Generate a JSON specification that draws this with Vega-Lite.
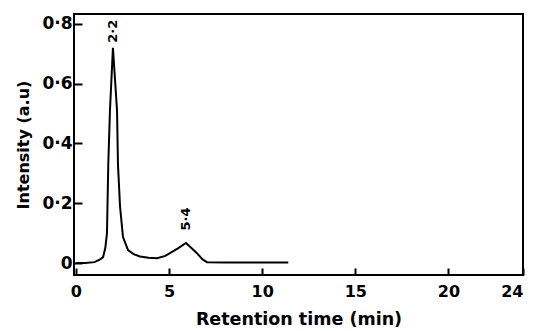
{
  "$schema": "https://vega.github.io/schema/vega-lite/v6.json",
  "width": 449,
  "height": 261,
  "autosize": {"type": "none"},
  "padding": {"left": 74, "top": 14, "right": 10, "bottom": 56},
  "background": "white",
  "config": {
    "view": {"stroke": "black", "strokeWidth": 2},
    "font": "DejaVu Sans",
    "axis": {
      "labelFont": "DejaVu Sans",
      "labelFontWeight": "bold",
      "labelColor": "black",
      "titleFont": "DejaVu Sans",
      "titleColor": "black",
      "titleFontWeight": "bold",
      "domain": false,
      "grid": false,
      "tickColor": "black",
      "tickWidth": 2,
      "zindex": 1
    }
  },
  "layer": [
    {
      "data": {
        "values": [
          {"t": 0, "v": 0.0},
          {"t": 0.5, "v": 0.0},
          {"t": 1.0, "v": 0.003},
          {"t": 1.3, "v": 0.012},
          {"t": 1.46, "v": 0.02},
          {"t": 1.58, "v": 0.05},
          {"t": 1.67, "v": 0.1},
          {"t": 1.74, "v": 0.33},
          {"t": 1.83, "v": 0.51},
          {"t": 1.99, "v": 0.72},
          {"t": 2.21, "v": 0.51},
          {"t": 2.26, "v": 0.33},
          {"t": 2.37, "v": 0.19},
          {"t": 2.53, "v": 0.087},
          {"t": 2.8, "v": 0.043},
          {"t": 3.1, "v": 0.03},
          {"t": 3.44, "v": 0.022},
          {"t": 3.9, "v": 0.018},
          {"t": 4.36, "v": 0.016},
          {"t": 4.8, "v": 0.024},
          {"t": 5.05, "v": 0.033},
          {"t": 5.5, "v": 0.05},
          {"t": 5.91, "v": 0.067},
          {"t": 6.2, "v": 0.05},
          {"t": 6.5, "v": 0.033},
          {"t": 6.8, "v": 0.012},
          {"t": 7.04, "v": 0.003},
          {"t": 8, "v": 0.002},
          {"t": 9, "v": 0.002},
          {"t": 10, "v": 0.002},
          {"t": 11.4, "v": 0.002}
        ]
      },
      "mark": {"type": "line", "color": "black", "strokeWidth": 2},
      "encoding": {
        "x": {
          "field": "t",
          "type": "quantitative",
          "scale": {"domain": [-0.1, 24], "nice": false, "zero": false},
          "axis": {
            "values": [0, 5, 10, 15, 20, 24],
            "tickSize": -7,
            "labelPadding": 15,
            "labelFontSize": 16,
            "title": "Retention time (min)",
            "titleFontSize": 17.5,
            "titlePadding": 11
          }
        },
        "y": {
          "field": "v",
          "type": "quantitative",
          "scale": {"domain": [-0.04, 0.833], "nice": false, "zero": false},
          "axis": {
            "values": [0, 0.1, 0.2, 0.3, 0.4, 0.5, 0.6, 0.7, 0.8],
            "tickSize": -8,
            "labelPadding": 10,
            "labelFontSize": 17,
            "labelExpr": "datum.value == 0 ? '0' : (round(datum.value * 10) % 2 == 1 ? '' : replace(format(datum.value, '.1f'), '.', '·'))",
            "title": "Intensity (a.u)",
            "titleFontSize": 16,
            "titlePadding": 10
          }
        }
      }
    },
    {
      "data": {
        "values": [
          {"t": 1.99, "v": 0.775, "label": "2·2"},
          {"t": 5.91, "v": 0.147, "label": "5·4"}
        ]
      },
      "mark": {"type": "text", "angle": 270, "fontWeight": "bold", "fontSize": 13, "font": "DejaVu Sans", "color": "black"},
      "encoding": {
        "x": {"field": "t", "type": "quantitative"},
        "y": {"field": "v", "type": "quantitative"},
        "text": {"field": "label"}
      }
    }
  ]
}
